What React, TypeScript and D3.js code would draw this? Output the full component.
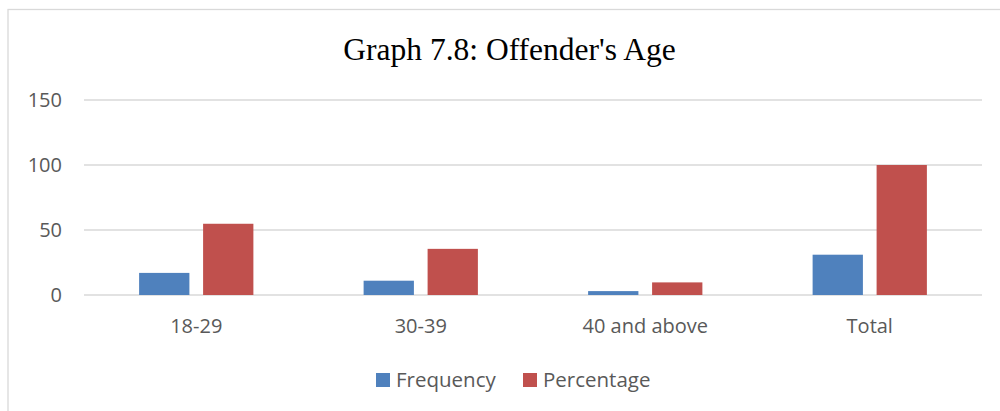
import React from "react";
import * as d3 from "d3";

const categories = ["18-29", "30-39", "40 and above", "Total"];
const frequency = [17, 11, 3, 31];
const percentage = [54.8, 35.5, 9.7, 100];
const yTicks = [0, 50, 100, 150];
const seriesNames = ["Frequency", "Percentage"];
const seriesColors = ["#4F81BD", "#C0504D"];

export default function App() {
  const W = 1000;
  const H = 411;
  const x = d3.scaleBand<string>().domain(categories).range([84, 982]).paddingInner(0).paddingOuter(0);
  const y = d3.scaleLinear().domain([0, 150]).range([295, 100]);
  const bw = x.bandwidth();
  const barW = bw * 0.224;
  const gap = bw * 0.061;
  const x1 = d3
    .scaleBand<string>()
    .domain(seriesNames)
    .range([bw / 2 - barW - gap / 2, bw / 2 + barW + gap / 2])
    .paddingInner(gap / (barW + gap))
    .paddingOuter(0);
  const seriesData = [frequency, percentage];
  const textColor = "#595959";
  const font = "'Open Sans', sans-serif";

  return (
    <svg width={W} height={H} style={{ position: "absolute", left: 0, top: 0, background: "#fff" }}>
      <rect x={8} y={9.5} width={1100} height={500} fill="#fff" stroke="#D9D9D9" strokeWidth={1.3} />
      <text x={509.5} y={59.5} textAnchor="middle" fontFamily="'Liberation Serif', 'Times New Roman', serif" fontSize={31.5} fill="#000">
        Graph 7.8: Offender's Age
      </text>
      {yTicks.map((t) => (
        <g key={t}>
          <line x1={84} x2={982} y1={y(t)} y2={y(t)} stroke="#D9D9D9" strokeWidth={1.3} />
          <text x={62} y={y(t)} dy="0.35em" textAnchor="end" fontFamily={font} fontSize={20} fill={textColor}>
            {t}
          </text>
        </g>
      ))}
      {categories.map((c, i) => (
        <g key={c} transform={`translate(${x(c)},0)`}>
          {seriesNames.map((s, j) => {
            const v = seriesData[j][i];
            return (
              <rect
                key={s}
                x={x1(s)}
                y={y(v)}
                width={x1.bandwidth()}
                height={y(0) - y(v)}
                fill={seriesColors[j]}
              />
            );
          })}
          <text x={bw / 2} y={333} textAnchor="middle" fontFamily={font} fontSize={20} fill={textColor}>
            {c}
          </text>
        </g>
      ))}
      <g>
        <rect x={376} y={373} width={14} height={14} fill={seriesColors[0]} />
        <text x={396} y={380} dy="0.35em" fontFamily={font} fontSize={20.5} fill={textColor}>
          {seriesNames[0]}
        </text>
        <rect x={523} y={373} width={14} height={14} fill={seriesColors[1]} />
        <text x={543} y={380} dy="0.35em" fontFamily={font} fontSize={20.5} fill={textColor}>
          {seriesNames[1]}
        </text>
      </g>
    </svg>
  );
}
